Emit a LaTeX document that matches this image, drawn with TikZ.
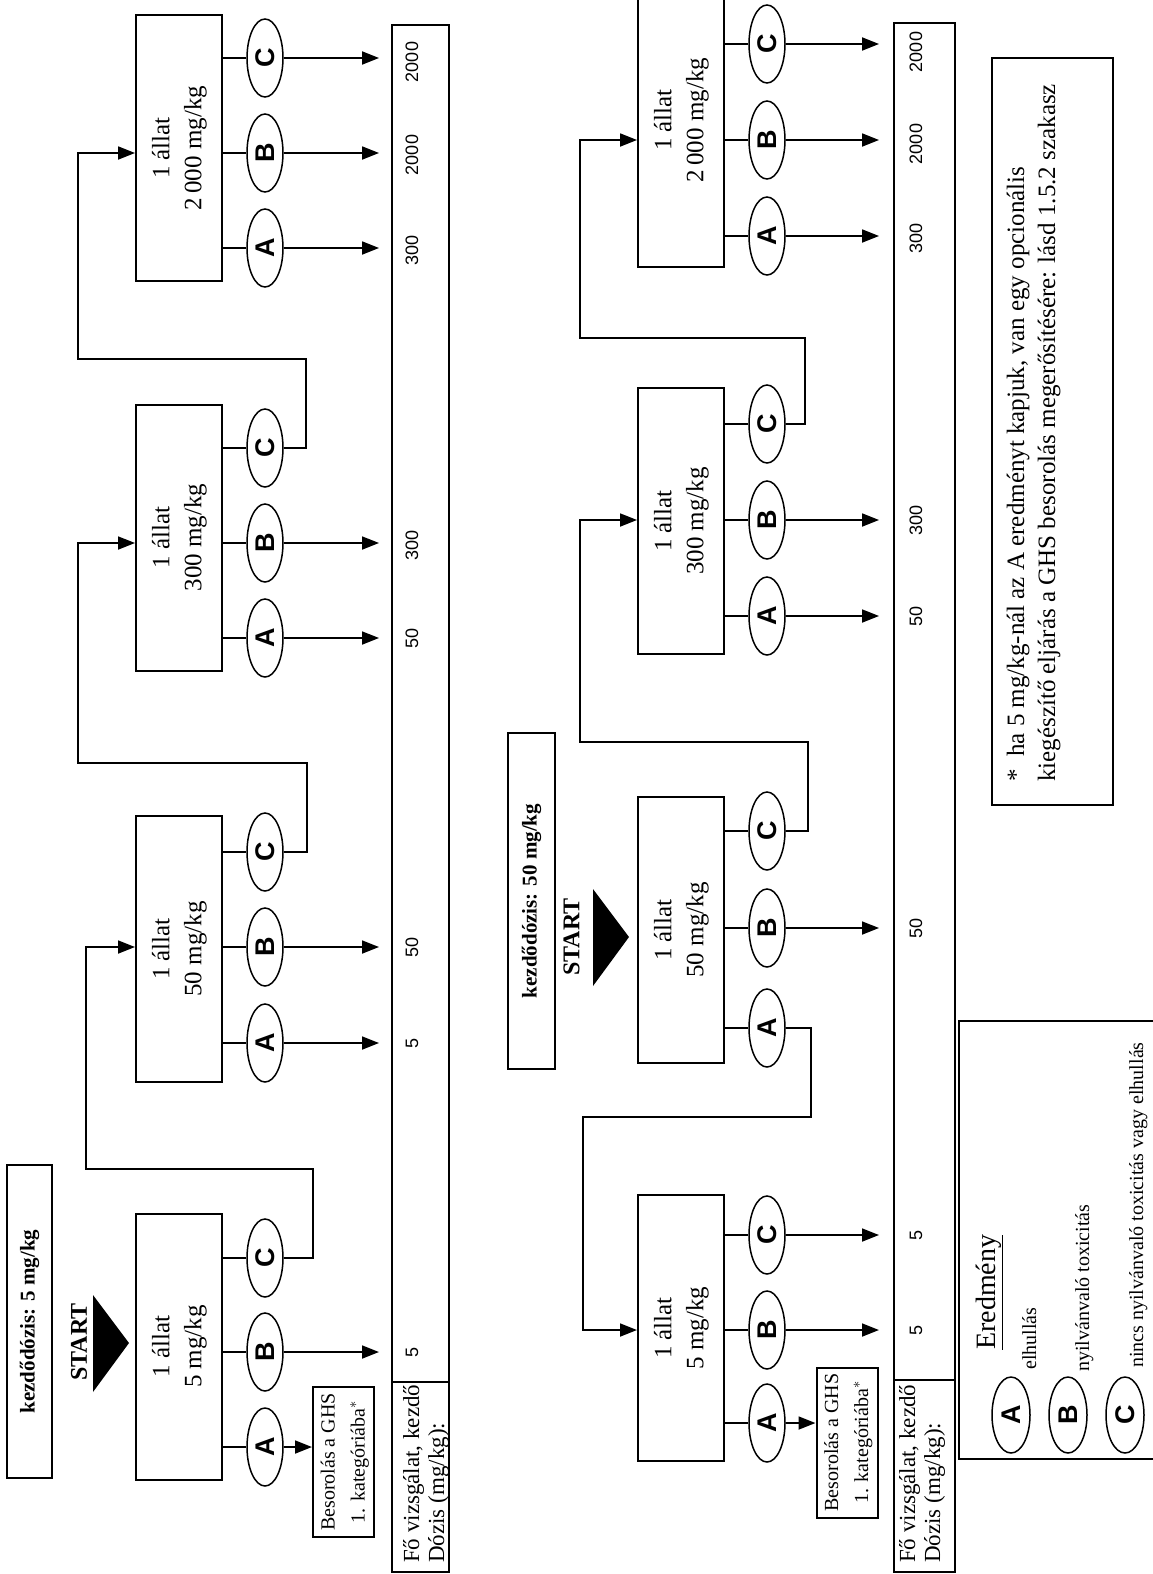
\documentclass[tikz,border=0pt]{standalone}
\usepackage{graphicx}
\usepackage{fontspec}
\setmainfont{Liberation Serif}
\newfontfamily\sansf{Liberation Sans}
\usetikzlibrary{arrows.meta,shapes.geometric}
\newcommand\lett[1]{\rotatebox{90}{\sansf\bfseries\fontsize{27}{27}\selectfont #1}}
\newcommand\rtab[1]{\rotatebox{90}{\begin{tabular}{@{}c@{}}#1\end{tabular}}}
\tikzset{
  box/.style={draw, line width=2pt, minimum width=86pt, minimum height=266pt, inner sep=0pt, font={\fontsize{25}{32}\selectfont}},
  oval/.style={draw, ellipse, line width=1.5pt, minimum width=36pt, minimum height=78pt, inner sep=0pt},
  resbox/.style={draw, line width=2pt, minimum width=61pt, minimum height=150pt, inner sep=0pt, font={\fontsize{20}{30}\selectfont}},
  startbox/.style={draw, line width=2pt, inner sep=0pt, font={\bfseries\fontsize{21}{25}\selectfont}},
  tabl/.style={draw, line width=2pt, inner sep=0pt},
  conn/.style={line width=1.8pt},
  arr/.style={line width=1.8pt, -{Triangle[length=17pt,width=13pt]}},
  num/.style={rotate=90, inner sep=0pt, font={\sansf\fontsize{18}{20}\selectfont}},
  rtxt/.style={rotate=90, inner sep=0pt, anchor=base west},
  starttxt/.style={rotate=90, inner sep=0pt, font={\bfseries\fontsize{24}{28}\selectfont}},
}
\begin{document}
\begin{tikzpicture}[x=1pt,y=-1pt]
\useasboundingbox (0,0) rectangle (1153,1574);
\fill[white] (0,0) rectangle (1153,1574);
\clip (0,0) rectangle (1153,1574);

% ================= FIRST ROW (left) =================
\node[startbox, minimum width=45pt, minimum height=313pt] (k1) at (29.5,1321.5) {\rotatebox{90}{kezdődózis: 5 mg/kg}};
\node[starttxt] (s1) at (79,1342) {START};
\fill (93,1295) -- (129,1343) -- (93,1392) -- cycle;

\node[box] (b2000a) at (179,148) {\rtab{1 állat\\2\,000 mg/kg}};
\node[box] (b300a) at (179,537.5) {\rtab{1 állat\\300 mg/kg}};
\node[box] (b50a) at (179,949) {\rtab{1 állat\\50 mg/kg}};
\node[box] (b5a) at (179,1346.5) {\rtab{1 állat\\5 mg/kg}};

\node[oval] (a2000aC) at (265,58) {\lett{C}};
\node[oval] (a2000aB) at (265,153) {\lett{B}};
\node[oval] (a2000aA) at (265,248) {\lett{A}};
\node[oval] (a300aC) at (265,448) {\lett{C}};
\node[oval] (a300aB) at (265,543) {\lett{B}};
\node[oval] (a300aA) at (265,638) {\lett{A}};
\node[oval] (a50aC) at (265,852) {\lett{C}};
\node[oval] (a50aB) at (265,947) {\lett{B}};
\node[oval] (a50aA) at (265,1043) {\lett{A}};
\node[oval] (a5aC) at (265,1258) {\lett{C}};
\node[oval] (a5aB) at (265,1352) {\lett{B}};
\node[oval] (a5aA) at (265,1447) {\lett{A}};

\node[resbox] (bes1) at (343.5,1462) {\rtab{Besorolás a GHS\\1. kategóriába$^{*}$}};

\node[tabl, minimum width=57pt, minimum height=1547pt] (tab1) at (420.5,798.5) {};
\draw[line width=2pt] (tab1.west |- 0,1382) -- (tab1.east |- 0,1382);
\coordinate (tip1) at (379,0);

% box to ellipse stubs
\foreach \b/\e in {b2000a/a2000aC,b2000a/a2000aB,b2000a/a2000aA,b300a/a300aC,b300a/a300aB,b300a/a300aA,b50a/a50aC,b50a/a50aB,b50a/a50aA,b5a/a5aC,b5a/a5aB,b5a/a5aA}
  \draw[conn] (\b.east |- \e) -- (\e.west);

% arrows to table
\foreach \e in {a2000aC,a2000aB,a2000aA,a300aB,a300aA,a50aB,a50aA,a5aB}
  \draw[arr] (\e.east) -- (tip1 |- \e);
\draw[arr] (a5aA.east) -- (bes1.west |- a5aA);

% loops
\draw[arr] (a5aC.east) -| (313,1169) -| (86,947) -- (b50a.west |- a50aB);
\draw[arr] (a50aC.east) -| (307,763) -| (78,543) -- (b300a.west |- a300aB);
\draw[arr] (a300aC.east) -| (306,359) -| (78,153) -- (b2000a.west |- a2000aB);

% table numbers
\node[num] (n1) at (412,1352) {5};
\node[num] (n2) at (412,1043) {5};
\node[num] (n3) at (412,947) {50};
\node[num] (n4) at (412,638) {50};
\node[num] (n5) at (412,545) {300};
\node[num] (n6) at (412,250) {300};
\node[num] (n7) at (412,155) {2000};
\node[num] (n8) at (412,62) {2000};
\node[rtxt, font={\fontsize{23}{27}\selectfont}] (fo1) at (419,1563) {Fő vizsgálat, kezdő};
\node[rtxt, font={\fontsize{23}{27}\selectfont}] (do1) at (444,1563) {Dózis (mg/kg):};

% ================= SECOND ROW (right) =================
\node[startbox, minimum width=47pt, minimum height=336pt] (k2) at (531.5,901) {\rotatebox{90}{kezdődózis: 50 mg/kg}};
\node[starttxt] (s2) at (571.5,937) {START};
\fill (593,889) -- (629,937) -- (593,986) -- cycle;

\node[box, minimum height=294pt] (b2000b) at (681,120) {\rtab{1 állat\\2\,000 mg/kg}};
\node[box] (b300b) at (681,521) {\rtab{1 állat\\300 mg/kg}};
\node[box] (b50b) at (681,930) {\rtab{1 állat\\50 mg/kg}};
\node[box] (b5b) at (681,1328) {\rtab{1 állat\\5 mg/kg}};

\node[oval] (a2000bC) at (767,44) {\lett{C}};
\node[oval] (a2000bB) at (767,140) {\lett{B}};
\node[oval] (a2000bA) at (767,236) {\lett{A}};
\node[oval] (a300bC) at (767,424) {\lett{C}};
\node[oval] (a300bB) at (767,520) {\lett{B}};
\node[oval] (a300bA) at (767,616) {\lett{A}};
\node[oval] (a50bC) at (767,831) {\lett{C}};
\node[oval] (a50bB) at (767,928) {\lett{B}};
\node[oval] (a50bA) at (767,1028) {\lett{A}};
\node[oval] (a5bC) at (767,1235) {\lett{C}};
\node[oval] (a5bB) at (767,1330) {\lett{B}};
\node[oval] (a5bA) at (767,1423) {\lett{A}};

\node[resbox] (bes2) at (847,1442.5) {\rtab{Besorolás a GHS\\1. kategóriába$^{*}$}};

\node[tabl, minimum width=61pt, minimum height=1549pt] (tab2) at (924.5,797.5) {};
\draw[line width=2pt] (tab2.west |- 0,1380) -- (tab2.east |- 0,1380);
\coordinate (tip2) at (879,0);

\foreach \b/\e in {b2000b/a2000bC,b2000b/a2000bB,b2000b/a2000bA,b300b/a300bC,b300b/a300bB,b300b/a300bA,b50b/a50bC,b50b/a50bB,b50b/a50bA,b5b/a5bC,b5b/a5bB,b5b/a5bA}
  \draw[conn] (\b.east |- \e) -- (\e.west);

\foreach \e in {a2000bC,a2000bB,a2000bA,a300bB,a300bA,a50bB,a5bC,a5bB}
  \draw[arr] (\e.east) -- (tip2 |- \e);
\draw[arr] (a5bA.east) -- (bes2.west |- a5bA);

\draw[arr] (a50bC.east) -| (808,742) -| (580,520) -- (b300b.west |- a300bB);
\draw[arr] (a50bA.east) -| (811,1117) -| (583,1330) -- (b5b.west |- a5bB);
\draw[arr] (a300bC.east) -| (805,338) -| (580,140) -- (b2000b.west |- a2000bB);

\node[num] (m1) at (916,1330) {5};
\node[num] (m2) at (916,1235) {5};
\node[num] (m3) at (916,928) {50};
\node[num] (m4) at (916,616) {50};
\node[num] (m5) at (916,520) {300};
\node[num] (m6) at (916,238) {300};
\node[num] (m7) at (916,144) {2000};
\node[num] (m8) at (916,52) {2000};
\node[rtxt, font={\fontsize{23}{27}\selectfont}] (fo2) at (915,1563) {Fő vizsgálat, kezdő};
\node[rtxt, font={\fontsize{23}{27}\selectfont}] (do2) at (940,1563) {Dózis (mg/kg):};

% ================= footnote =================
\node[tabl, minimum width=121pt, minimum height=747pt] (fnbox) at (1052.5,431.5) {};
\node[rtxt, font={\fontsize{25}{31}\selectfont}] (fn1) at (1024,782) {\makebox[25pt][l]{*}ha 5 mg/kg-nál az A eredményt kapjuk, van egy opcionális};
\node[rtxt, font={\fontsize{25}{31}\selectfont}] (fn2) at (1055,782) {kiegészítő eljárás a GHS besorolás megerősítésére: lásd 1.5.2 szakasz};

% ================= legend =================
\node[tabl, minimum width=216pt, minimum height=438pt] (leg) at (1067,1240) {};
\node[rtxt, font={\fontsize{28}{32}\selectfont}] (legt) at (995,1350) {\underline{Eredmény}};
\node[oval, minimum width=38pt, minimum height=76pt] (lA) at (1011,1415) {\lett{A}};
\node[oval, minimum width=38pt, minimum height=76pt] (lB) at (1068,1415) {\lett{B}};
\node[oval, minimum width=38pt, minimum height=76pt] (lC) at (1125,1415) {\lett{C}};
\node[rtxt, font={\fontsize{20}{24}\selectfont}] (lAt) at (1036,1370) {elhullás};
\node[rtxt, font={\fontsize{20}{24}\selectfont}] (lBt) at (1089,1372) {nyilvánvaló toxicitás};
\node[rtxt, font={\fontsize{20}{24}\selectfont}] (lCt) at (1143,1368) {nincs nyilvánvaló toxicitás vagy elhullás};
\end{tikzpicture}
\end{document}
